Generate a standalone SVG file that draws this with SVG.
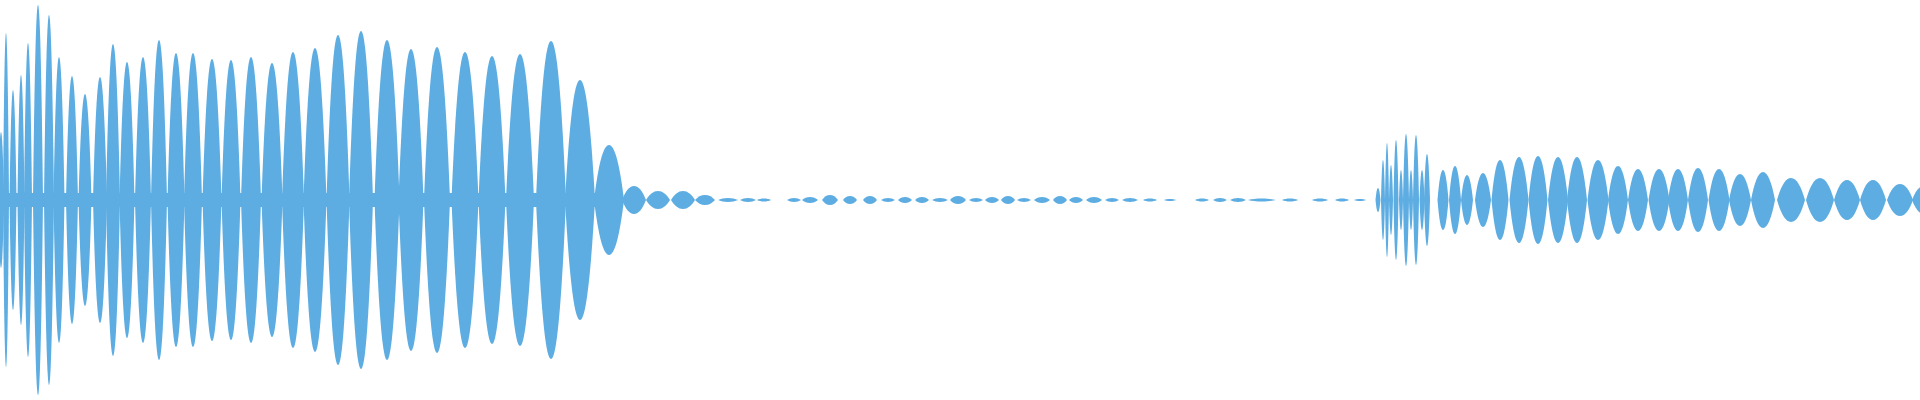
<svg xmlns="http://www.w3.org/2000/svg" xmlns:xlink="http://www.w3.org/1999/xlink" width="1920" height="400" viewBox="0 0 1920 400">
<style>.w{fill:#5dade2}</style>
<defs><path id="l" d="M-0.5 0C-0.36 -0.62 -0.2 -1 0 -1C0.2 -1 0.36 -0.62 0.5 0C0.36 0.62 0.2 1 0 1C-0.2 1 -0.36 0.62 -0.5 0Z"/></defs>
<rect width="1920" height="400" fill="#fff"/>
<g id="wave" class="w">
<rect x="0" y="193" width="600" height="14"/>
<use href="#l" transform="translate(1,200) scale(6,68)"/>
<use href="#l" transform="translate(6,200) scale(6,167)"/>
<use href="#l" transform="translate(13,200) scale(7,110)"/>
<use href="#l" transform="translate(21,200) scale(7,125)"/>
<use href="#l" transform="translate(28,200) scale(8,157)"/>
<use href="#l" transform="translate(38,200) scale(10,195)"/>
<use href="#l" transform="translate(49,200) scale(10,185)"/>
<use href="#l" transform="translate(59,200) scale(11,143)"/>
<use href="#l" transform="translate(72,200) scale(12,124)"/>
<use href="#l" transform="translate(85,200) scale(13,106)"/>
<use href="#l" transform="translate(100,200) scale(14,123)"/>
<use href="#l" transform="translate(113,200) scale(14,156)"/>
<use href="#l" transform="translate(127,200) scale(15,138)"/>
<use href="#l" transform="translate(143,200) scale(16,143)"/>
<use href="#l" transform="translate(159,200) scale(16,160)"/>
<use href="#l" transform="translate(176,200) scale(17,147)"/>
<use href="#l" transform="translate(193,200) scale(18,147)"/>
<use href="#l" transform="translate(212,200) scale(19,141)"/>
<use href="#l" transform="translate(231,200) scale(19,140)"/>
<use href="#l" transform="translate(251,200) scale(20,143)"/>
<use href="#l" transform="translate(272,200) scale(21,137)"/>
<use href="#l" transform="translate(293,200) scale(22,148)"/>
<use href="#l" transform="translate(315,200) scale(23,152)"/>
<use href="#l" transform="translate(338,200) scale(23,165)"/>
<use href="#l" transform="translate(361,200) scale(24,169)"/>
<use href="#l" transform="translate(387,200) scale(25,160)"/>
<use href="#l" transform="translate(411,200) scale(25,151)"/>
<use href="#l" transform="translate(437,200) scale(26,153)"/>
<use href="#l" transform="translate(465,200) scale(27,148)"/>
<use href="#l" transform="translate(492,200) scale(27,144)"/>
<use href="#l" transform="translate(520,200) scale(28,146)"/>
<use href="#l" transform="translate(551,200) scale(30,159)"/>
<use href="#l" transform="translate(580,200) scale(30,120)"/>
<use href="#l" transform="translate(609,200) scale(30,55)"/>
<use href="#l" transform="translate(634,200) scale(24,14)"/>
<use href="#l" transform="translate(658,200) scale(24,9)"/>
<use href="#l" transform="translate(683,200) scale(24,9)"/>
<use href="#l" transform="translate(705,200) scale(20,5)"/>
<use href="#l" transform="translate(728,200) scale(20,2)"/>
<use href="#l" transform="translate(748,200) scale(16,2)"/>
<use href="#l" transform="translate(764,200) scale(14,1.5)"/>
<use href="#l" transform="translate(794,200) scale(14,2)"/>
<use href="#l" transform="translate(810,200) scale(16,3)"/>
<use href="#l" transform="translate(830,200) scale(16,5)"/>
<use href="#l" transform="translate(850,200) scale(14,4)"/>
<use href="#l" transform="translate(870,200) scale(14,4)"/>
<use href="#l" transform="translate(888,200) scale(14,2)"/>
<use href="#l" transform="translate(905,200) scale(14,3)"/>
<use href="#l" transform="translate(922,200) scale(14,3)"/>
<use href="#l" transform="translate(940,200) scale(16,2)"/>
<use href="#l" transform="translate(958,200) scale(16,4)"/>
<use href="#l" transform="translate(976,200) scale(14,2)"/>
<use href="#l" transform="translate(992,200) scale(14,3)"/>
<use href="#l" transform="translate(1008,200) scale(14,4)"/>
<use href="#l" transform="translate(1024,200) scale(14,2)"/>
<use href="#l" transform="translate(1042,200) scale(16,3)"/>
<use href="#l" transform="translate(1060,200) scale(14,4)"/>
<use href="#l" transform="translate(1076,200) scale(14,3)"/>
<use href="#l" transform="translate(1094,200) scale(16,3)"/>
<use href="#l" transform="translate(1112,200) scale(14,2)"/>
<use href="#l" transform="translate(1130,200) scale(16,2)"/>
<use href="#l" transform="translate(1150,200) scale(14,1.5)"/>
<use href="#l" transform="translate(1170,200) scale(12,1)"/>
<use href="#l" transform="translate(1202,200) scale(14,1.5)"/>
<use href="#l" transform="translate(1220,200) scale(14,2)"/>
<use href="#l" transform="translate(1238,200) scale(16,2)"/>
<use href="#l" transform="translate(1262,200) scale(28,1.5)"/>
<use href="#l" transform="translate(1290,200) scale(16,1.5)"/>
<use href="#l" transform="translate(1320,200) scale(16,1.5)"/>
<use href="#l" transform="translate(1342,200) scale(14,1.5)"/>
<use href="#l" transform="translate(1360,200) scale(12,1)"/>
<use href="#l" transform="translate(1378,200) scale(5,12)"/>
<use href="#l" transform="translate(1383,200) scale(4,40)"/>
<use href="#l" transform="translate(1387,200) scale(4,57)"/>
<use href="#l" transform="translate(1391,200) scale(4,35)"/>
<use href="#l" transform="translate(1396,200) scale(5,60)"/>
<use href="#l" transform="translate(1401,200) scale(4,30)"/>
<use href="#l" transform="translate(1406,200) scale(6,66)"/>
<use href="#l" transform="translate(1411,200) scale(4,30)"/>
<use href="#l" transform="translate(1416,200) scale(6,65)"/>
<use href="#l" transform="translate(1422,200) scale(5,30)"/>
<use href="#l" transform="translate(1427,200) scale(6,46)"/>
<use href="#l" transform="translate(1443,200) scale(11,30)"/>
<use href="#l" transform="translate(1455,200) scale(12,34)"/>
<use href="#l" transform="translate(1467,200) scale(12,25)"/>
<use href="#l" transform="translate(1483,200) scale(16,27)"/>
<use href="#l" transform="translate(1500,200) scale(17,40)"/>
<use href="#l" transform="translate(1519,200) scale(19,43)"/>
<use href="#l" transform="translate(1538,200) scale(19,44)"/>
<use href="#l" transform="translate(1558,200) scale(20,43)"/>
<use href="#l" transform="translate(1577,200) scale(20,43)"/>
<use href="#l" transform="translate(1598,200) scale(21,40)"/>
<use href="#l" transform="translate(1618,200) scale(20,34)"/>
<use href="#l" transform="translate(1638,200) scale(20,31)"/>
<use href="#l" transform="translate(1659,200) scale(21,31)"/>
<use href="#l" transform="translate(1678,200) scale(20,31)"/>
<use href="#l" transform="translate(1698,200) scale(20,32)"/>
<use href="#l" transform="translate(1719,200) scale(21,31)"/>
<use href="#l" transform="translate(1740,200) scale(22,26)"/>
<use href="#l" transform="translate(1763,200) scale(24,28)"/>
<use href="#l" transform="translate(1791,200) scale(28,22)"/>
<use href="#l" transform="translate(1820,200) scale(28,22)"/>
<use href="#l" transform="translate(1847,200) scale(26,20)"/>
<use href="#l" transform="translate(1873,200) scale(26,20)"/>
<use href="#l" transform="translate(1900,200) scale(26,16)"/>
<use href="#l" transform="translate(1924,200) scale(24,14)"/>
</g>
</svg>
